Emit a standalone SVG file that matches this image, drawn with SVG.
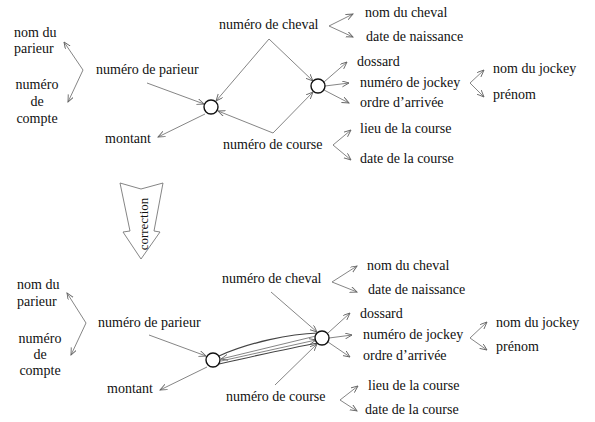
<svg xmlns="http://www.w3.org/2000/svg" width="595" height="422" viewBox="0 0 595 422" font-family="Liberation Serif, Times New Roman, DejaVu Serif, serif" font-size="14">
<style>
text{font-family:'Liberation Serif','Times New Roman','DejaVu Serif',serif;font-size:14px;fill:#111}
.c{fill:#fff;stroke:#111;stroke-width:1.4}
.l{stroke:#777;stroke-width:0.9;fill:none}
.a{marker-end:url(#ah)}
</style>
<defs>
<marker id="ah" markerUnits="userSpaceOnUse" markerWidth="10" markerHeight="8" refX="7" refY="3" orient="auto">
<path d="M0,0 L7,3 L0,6" fill="none" stroke="#666" stroke-width="0.9"/>
</marker>
</defs>
<rect width="595" height="422" fill="#fff"/>
<g id="connectors">
<path class="l a" d="M83,70 L64,42"/>
<path class="l a" d="M83,70 L68,102"/>
<path class="l a" d="M147,83 L204,104"/>
<path class="l a" d="M205,114 L158,137"/>
<path class="l a" d="M269,39 L216,101"/>
<path class="l a" d="M269,39 L313,81"/>
<path class="l a" d="M273,133 L218,111"/>
<path class="l a" d="M273,133 L313,92"/>
<path class="l a" d="M324,82 L347,62"/>
<path class="l a" d="M325,86 L349,83"/>
<path class="l a" d="M324,90 L349,103"/>
<path class="l a" d="M329,26 L353,14"/>
<path class="l a" d="M329,26 L353,37"/>
<path class="l a" d="M470,83 L484,70"/>
<path class="l a" d="M470,83 L484,97"/>
<path class="l a" d="M333,145 L351,130"/>
<path class="l a" d="M333,145 L351,160"/>
<path class="l a" d="M86,323 L67,293"/>
<path class="l a" d="M86,323 L71,355"/>
<path class="l a" d="M149,335 L206,356"/>
<path class="l a" d="M207,367 L160,390"/>
<path class="l a" d="M271,292 L317,332"/>
<path class="l a" d="M275,385 L317,344"/>
<path class="l a" d="M328,333 L350,313"/>
<path class="l a" d="M329,338 L352,335"/>
<path class="l a" d="M328,342 L350,357"/>
<path class="l a" d="M332,282 L357,266"/>
<path class="l a" d="M332,282 L357,292"/>
<path class="l a" d="M470,338 L487,322"/>
<path class="l a" d="M470,338 L487,350"/>
<path class="l a" d="M340,400 L358,386"/>
<path class="l a" d="M340,400 L357,411"/>
<path d="M219,356 C250,342 290,334 318,333" fill="none" stroke="#444" stroke-width="1.2"/>
<path d="M219,364 C250,357 290,348 318,343" fill="none" stroke="#444" stroke-width="1.2"/>
<path class="l a" d="M316,336 L221,359"/>
<path class="l a" d="M221,361 L316,340"/>
</g>
<g id="correction">
<polygon points="120,183 141,189 163,183 154,231 160,232 141,259 123,232 130,231" fill="#fff" stroke="#777" stroke-width="0.9"/>
<text transform="translate(148,224) rotate(-90)" text-anchor="middle" font-size="13" style="font-size:13px">correction</text>
</g>
<g id="top">
<g id="t-circle-left"><circle class="c" cx="211" cy="107" r="7"/></g>
<g id="t-circle-right"><circle class="c" cx="318" cy="86" r="7"/></g>
<g id="t-nom-parieur"><text x="14" y="37">nom du</text><text x="14" y="53">parieur</text></g>
<g id="t-compte"><text x="37" y="89" text-anchor="middle">numéro</text><text x="37" y="106" text-anchor="middle">de</text><text x="37" y="123" text-anchor="middle">compte</text></g>
<g id="t-num-parieur"><text x="96" y="74">numéro de parieur</text></g>
<g id="t-montant"><text x="105" y="143">montant</text></g>
<g id="t-num-cheval"><text x="219" y="29">numéro de cheval</text></g>
<g id="t-num-course"><text x="223" y="149">numéro de course</text></g>
<g id="t-nom-cheval"><text x="365" y="17">nom du cheval</text></g>
<g id="t-naissance"><text x="366" y="41">date de naissance</text></g>
<g id="t-dossard"><text x="357" y="66">dossard</text></g>
<g id="t-num-jockey"><text x="360" y="87">numéro de jockey</text></g>
<g id="t-ordre"><text x="360" y="107">ordre d’arrivée</text></g>
<g id="t-lieu"><text x="360" y="133">lieu de la course</text></g>
<g id="t-date-course"><text x="360" y="163">date de la course</text></g>
<g id="t-nom-jockey"><text x="493" y="73">nom du jockey</text></g>
<g id="t-prenom"><text x="493" y="99">prénom</text></g>
</g>
<g id="bottom">
<g id="b-circle-left"><circle class="c" cx="213" cy="360" r="7"/></g>
<g id="b-circle-right"><circle class="c" cx="322" cy="338" r="7"/></g>
<g id="b-nom-parieur"><text x="17" y="289">nom du</text><text x="17" y="306">parieur</text></g>
<g id="b-compte"><text x="40" y="343" text-anchor="middle">numéro</text><text x="40" y="359" text-anchor="middle">de</text><text x="40" y="375" text-anchor="middle">compte</text></g>
<g id="b-num-parieur"><text x="98" y="327">numéro de parieur</text></g>
<g id="b-montant"><text x="107" y="393">montant</text></g>
<g id="b-num-cheval"><text x="222" y="283">numéro de cheval</text></g>
<g id="b-num-course"><text x="226" y="401">numéro de course</text></g>
<g id="b-nom-cheval"><text x="367" y="270">nom du cheval</text></g>
<g id="b-naissance"><text x="368" y="294">date de naissance</text></g>
<g id="b-dossard"><text x="360" y="318">dossard</text></g>
<g id="b-num-jockey"><text x="363" y="339">numéro de jockey</text></g>
<g id="b-ordre"><text x="363" y="360">ordre d’arrivée</text></g>
<g id="b-lieu"><text x="368" y="390">lieu de la course</text></g>
<g id="b-date-course"><text x="365" y="414">date de la course</text></g>
<g id="b-nom-jockey"><text x="496" y="327">nom du jockey</text></g>
<g id="b-prenom"><text x="496" y="351">prénom</text></g>
</g>
</svg>
